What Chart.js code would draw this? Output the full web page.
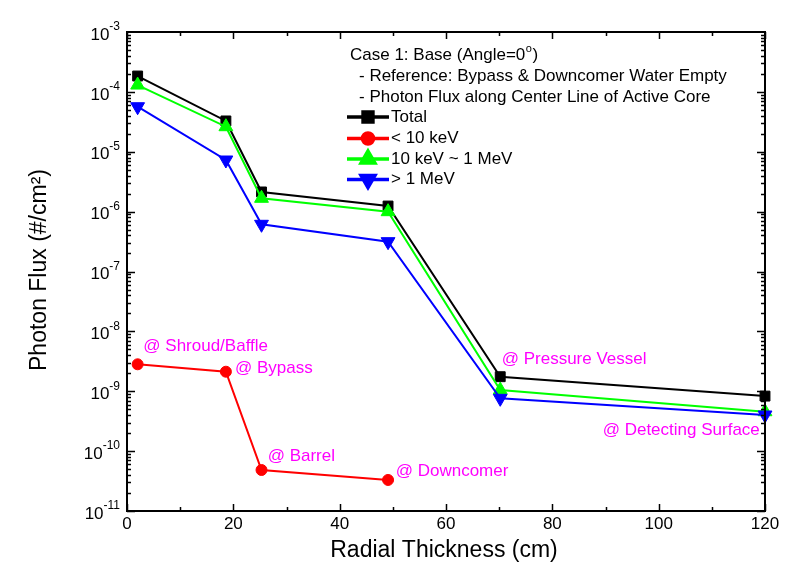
<!DOCTYPE html>
<html>
<head>
<meta charset="utf-8">
<script src="https://cdn.jsdelivr.net/npm/chart.js@4"></script>
<style>
html,body{margin:0;padding:0;background:#fff;}
#wrap{width:809px;height:583px;}
</style>
</head>
<body>
<div id="wrap"><canvas id="c" width="809" height="583"></canvas></div>
<script>
// ---- data ----
const radialX = [2, 18.6, 25.3, 49.1, 70.2, 120];
const redX = [2, 18.6, 25.3, 49.1];
const totalFlux = [1.84e-4, 3.27e-5, 2.13e-6, 1.24e-6, 1.75e-9, 8.3e-10];
const lowFlux = [2.82e-9, 2.12e-9, 4.84e-11, 3.30e-11];
const midFlux = [1.30e-4, 2.62e-5, 1.67e-6, 9.98e-7, 1.05e-9, 4.55e-10];
const highFlux = [5.65e-5, 7.28e-6, 6.14e-7, 3.15e-7, 7.62e-10, 4.01e-10];
const seriesNames = ['Total', '< 10 keV', '10 keV ~ 1 MeV', '> 1 MeV'];
const xTicks = [0, 20, 40, 60, 80, 100, 120];
const yTickExps = [-3, -4, -5, -6, -7, -8, -9, -10, -11];
const legendHeader = ['Case 1: Base (Angle=0', '  - Reference: Bypass & Downcomer Water Empty', '  - Photon Flux along Center Line of Active Core'];
const annoText = ['@ Shroud/Baffle', '@ Bypass', '@ Barrel', '@ Downcomer', '@ Pressure Vessel', '@ Detecting Surface'];
const annoX = [3.07, 20.3, 26.46, 50.54, 70.48, 89.47];
const annoY = [5.55e-9, 2.42e-9, 8.07e-11, 4.53e-11, 3.46e-9, 2.25e-10];

const FONT = "'Liberation Sans', Arial, sans-serif";
const pts = (xs, ys) => xs.map((x, i) => ({x: x, y: ys[i]}));

const styles = [
  {color: '#000000', pointStyle: 'rect', radius: 7, rotation: 0},
  {color: '#ff0000', pointStyle: 'circle', radius: 5.5, rotation: 0},
  {color: '#00ff00', pointStyle: 'triangle', radius: 8, rotation: 0},
  {color: '#0000ff', pointStyle: 'triangle', radius: 8, rotation: 180}
];
const dataArr = [pts(radialX, totalFlux), pts(redX, lowFlux), pts(radialX, midFlux), pts(radialX, highFlux)];

const datasets = dataArr.map((d, i) => ({
  label: seriesNames[i],
  data: d,
  borderColor: styles[i].color,
  backgroundColor: styles[i].color,
  pointBackgroundColor: styles[i].color,
  pointBorderColor: styles[i].color,
  borderWidth: 2,
  pointRadius: styles[i].radius,
  pointStyle: styles[i].pointStyle,
  pointRotation: styles[i].rotation,
  pointBorderWidth: 1,
  tension: 0,
  clip: false,
  order: 4 - i
}));

const decor = {
  id: 'decor',
  afterDatasetsDraw(chart) {
    const ctx = chart.ctx;
    const a = chart.chartArea;
    const xs = chart.scales.x, ys = chart.scales.y;
    ctx.save();
    ctx.strokeStyle = '#000';
    ctx.fillStyle = '#000';
    // ticks
    ctx.lineWidth = 1.5;
    ctx.beginPath();
    for (let v = 0; v <= 120; v += 10) {
      const px = Math.round(xs.getPixelForValue(v)) + 0.5;
      const len = (v % 20 === 0) ? 7 : 4;
      ctx.moveTo(px, a.bottom); ctx.lineTo(px, a.bottom - len);
      ctx.moveTo(px, a.top); ctx.lineTo(px, a.top + len);
    }
    for (let e = -11; e < -3; e++) {
      for (let m = 1; m <= 9; m++) {
        const py = Math.round(ys.getPixelForValue(m * Math.pow(10, e))) + 0.5;
        const len = (m === 1) ? 8 : 4;
        ctx.moveTo(a.left, py); ctx.lineTo(a.left + len, py);
        ctx.moveTo(a.right, py); ctx.lineTo(a.right - len, py);
      }
    }
    ctx.stroke();
    // frame
    ctx.lineWidth = 2;
    ctx.strokeRect(a.left, a.top, a.right - a.left, a.bottom - a.top);

    // x tick labels
    ctx.font = '17px ' + FONT;
    ctx.textAlign = 'center';
    ctx.textBaseline = 'middle';
    xTicks.forEach(v => ctx.fillText(String(v), xs.getPixelForValue(v), a.bottom + 13));
    // y tick labels with superscripts
    yTickExps.forEach(e => {
      const py = ys.getPixelForValue(Math.pow(10, e));
      const sup = '-' + String(-e);
      ctx.font = '12px ' + FONT;
      const sw = ctx.measureText(sup).width;
      ctx.textAlign = 'right';
      ctx.textBaseline = 'middle';
      const rightX = a.left - 7;
      ctx.fillText(sup, rightX, py - 5);
      ctx.font = '17px ' + FONT;
      ctx.fillText('10', rightX - sw, py + 3);
    });
    // axis titles
    ctx.font = '23px ' + FONT;
    ctx.textAlign = 'center';
    ctx.textBaseline = 'middle';
    ctx.fillText('Radial Thickness (cm)', (a.left + a.right) / 2 - 2, 551);
    ctx.save();
    ctx.translate(40, 270);
    ctx.rotate(-Math.PI / 2);
    ctx.fillText('Photon Flux (#/cm²)', 0, 0);
    ctx.restore();

    // legend header
    ctx.font = '17px ' + FONT;
    ctx.textAlign = 'left';
    ctx.textBaseline = 'middle';
    ctx.fillText(legendHeader[0], 350, 55);
    const hw = ctx.measureText(legendHeader[0]).width;
    ctx.font = '11px ' + FONT;
    ctx.fillText('o', 350 + hw + 0.5, 49);
    const ow = ctx.measureText('o').width;
    ctx.font = '17px ' + FONT;
    ctx.fillText(')', 350 + hw + ow + 1, 55);
    ctx.fillText(legendHeader[1].trim(), 359, 76.5);
    ctx.fillText(legendHeader[2].trim(), 359, 97);
    // legend items
    const ly = [117, 138.5, 159, 179.5];
    styles.forEach((s, i) => {
      ctx.strokeStyle = s.color;
      ctx.fillStyle = s.color;
      ctx.lineWidth = 3.5;
      ctx.beginPath();
      ctx.moveTo(347, ly[i]); ctx.lineTo(389, ly[i]);
      ctx.stroke();
      Chart.helpers.drawPoint(ctx, {pointStyle: s.pointStyle, radius: s.radius, rotation: s.rotation, borderWidth: 1}, 368, ly[i]);
      ctx.fillStyle = '#000';
      ctx.fillText(seriesNames[i], 391, ly[i]);
    });

    // annotations
    ctx.fillStyle = '#ff00ff';
    ctx.font = '17px ' + FONT;
    annoText.forEach((t, i) => {
      ctx.fillText(t, xs.getPixelForValue(annoX[i]), ys.getPixelForValue(annoY[i]));
    });
    ctx.restore();
  }
};

new Chart(document.getElementById('c'), {
  type: 'line',
  data: {datasets: datasets},
  options: {
    responsive: false,
    animation: false,
    events: [],
    layout: {padding: {top: 32, right: 44, left: 0, bottom: 0}},
    plugins: {legend: {display: false}, tooltip: {enabled: false}, title: {display: false}},
    scales: {
      x: {
        type: 'linear', min: 0, max: 120,
        grid: {display: false}, border: {display: false},
        ticks: {display: false},
        afterFit: s => { s.height = 72; }
      },
      y: {
        type: 'logarithmic', min: 1e-11, max: 1e-3,
        grid: {display: false}, border: {display: false},
        ticks: {display: false},
        afterFit: s => { s.width = 127; }
      }
    }
  },
  plugins: [decor]
});
</script>
</body>
</html>
